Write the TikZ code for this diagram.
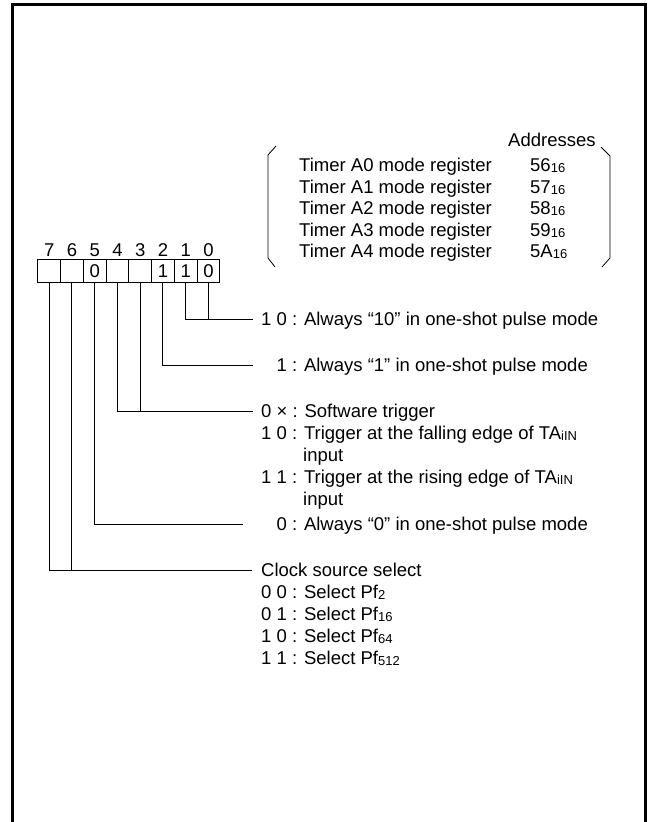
\documentclass[tikz,border=0pt]{standalone}
\usepackage{fontspec}
\setmainfont{Liberation Sans}
\usetikzlibrary{positioning}

\newcommand{\lowsub}[1]{\raisebox{-1pt}{\fontsize{13}{13}\selectfont #1}}

\tikzset{
  bitcell/.style={draw, line width=1pt, minimum width=22.75pt, minimum height=23pt,
    inner sep=0pt, anchor=north west},
  bitnum/.style={anchor=base, inner sep=0pt},
  lbl/.style={anchor=base west, inner sep=0pt},
  lead/.style={line width=1pt},
}

\begin{document}
\begin{tikzpicture}[x=1pt, y=-1pt, font=\fontsize{18.5}{22}\selectfont]
    \useasboundingbox (0,0) rectangle (650,822);

    % outer frame (runs off the bottom)
    \draw[line width=3pt] (12,822) -- (12,4) -- (645,4) -- (645,822);

    % register addresses
    \node[lbl] (addr) at (508,146.6) {Addresses};
    \foreach \idx/\adr [count=\k from 0] in {0/56,1/57,2/58,3/59,4/5A} {
        \node[lbl] (reg\idx) at (299,{171.6+21.5*\k}) {Timer A\idx\ mode register};
        \node[lbl] (adr\idx) at (530,{171.6+21.5*\k}) {\adr\lowsub{16}};
    }
    \draw[line width=0.8pt] (276,146) -- (268,155) -- (268,258) -- (275,267);
    \draw[line width=0.8pt] (601,147) -- (610,156) -- (610,258) -- (602,267);

    % bit cells
    \foreach \b/\v [count=\i from 0] in {7/,6/,5/0,4/,3/,2/1,1/1,0/0} {
        \node[bitcell] (b\b) at ({37.3+22.75*\i},259) {\v};
        \node[bitnum] (n\b) at ([yshift=2.5pt]b\b.north) {\b};
    }

    % bits 1,0
    \coordinate (e10) at (253,319);
    \draw[lead] (b1.south) |- (e10);
    \draw[lead] (b0.south) -- (b0.south |- e10);
    \node[lbl] (t10) at (261,325.6) {1 0 : Always “10” in one-shot pulse mode};

    % bit 2
    \coordinate (e2) at (253,365);
    \draw[lead] (b2.south) |- (e2);
    \node[lbl] (t2) at (261,371.6) {\phantom{1}\ 1 : Always “1” in one-shot pulse mode};

    % bits 4,3
    \coordinate (e43) at (253,411);
    \draw[lead] (b4.south) |- (e43);
    \draw[lead] (b3.south) -- (b3.south |- e43);
    \node[lbl] (t43a) at (261,417.6) {0 × : Software trigger};
    \node[lbl] (t43b) at (261,439.6) {1 0 : Trigger at the falling edge of TA\lowsub{iIN}};
    \node[lbl] (t43c) at (303,461.6) {input};
    \node[lbl] (t43d) at (261,483.6) {1 1 : Trigger at the rising edge of TA\lowsub{iIN}};
    \node[lbl] (t43e) at (303,505.6) {input};

    % bit 5
    \coordinate (e5) at (243,524);
    \draw[lead] (b5.south) |- (e5);
    \node[lbl] (t5) at (261,530.6) {\phantom{0}\ 0 : Always “0” in one-shot pulse mode};

    % bits 7,6
    \coordinate (e76) at (252,570);
    \draw[lead] (b7.south) |- (e76);
    \draw[lead] (b6.south) -- (b6.south |- e76);
    \node[lbl] (t76a) at (261,576.6) {Clock source select};
    \node[lbl] (t76b) at (261,598.6) {0 0 : Select Pf\lowsub{2}};
    \node[lbl] (t76c) at (261,620.6) {0 1 : Select Pf\lowsub{16}};
    \node[lbl] (t76d) at (261,642.6) {1 0 : Select Pf\lowsub{64}};
    \node[lbl] (t76e) at (261,664.6) {1 1 : Select Pf\lowsub{512}};
\end{tikzpicture}
\end{document}
